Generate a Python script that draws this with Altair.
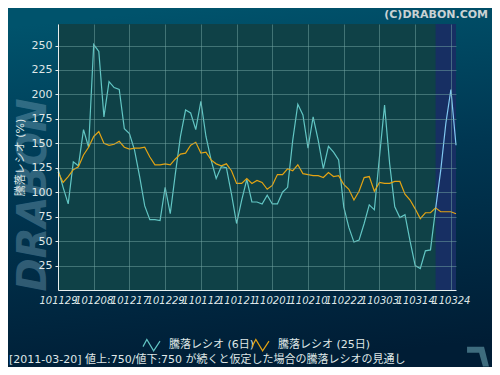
import altair as alt
import pandas as pd

# ---------------- data ----------------
dates = ['101129', '101208', '101217', '101229', '110112', '110121',
         '110201', '110210', '110222', '110303', '110314', '110324']
tick_idx = [0, 7, 14, 21, 28, 35, 42, 49, 56, 63, 70, 77]
y_ticks = [25, 50, 75, 100, 125, 150, 175, 200, 225, 250]

ratio6 = [124, 105, 88, 131, 127, 164, 146, 251, 244, 177, 213, 207, 205, 165, 160, 143, 116, 86, 72, 72, 71,
          105, 78, 119, 157, 184, 181, 164, 193, 157, 133, 114, 126, 125, 98, 68, 92, 113, 90, 90,
          88, 97, 88, 88, 100, 105, 153, 190, 179, 145, 177, 153, 124, 147, 141, 133, 85, 64, 49, 51,
          68, 87, 82, 136, 189, 129, 85, 74, 77, 50, 25, 22, 40, 41, 83, 122, 170, 205, 148]
ratio25 = [121, 110, 116, 123, 126, 138, 146, 157, 162, 150, 148, 149, 152, 146, 144, 145, 145, 146, 136, 128, 128,
           129, 128, 134, 139, 140, 148, 151, 140, 141, 133, 129, 127, 129, 122, 109, 109, 114, 109, 112,
           110, 103, 107, 118, 118, 124, 122, 128, 119, 118, 117, 117, 115, 120, 116, 117, 108, 103, 92, 101,
           115, 116, 101, 110, 109, 109, 111, 111, 98, 92, 83, 73, 79, 79, 84, 80, 80, 80, 78]
series_names = ['騰落レシオ (6日)', '騰落レシオ (25日)']
last_actual = 74          # index of last observed day
proj_band = [74, 78]      # projected (assumed) range
x_domain = [0, 78]
y_domain = [0, 272]

footer = '[2011-03-20]  値上:750/値下:750 が続くと仮定した場合の騰落レシオの見通し'
copyright_txt = '(C)DRABON.COM'
watermark = 'DRABON'

# ---------------- layout ----------------
W, H = 398, 266
PL, PT = 50, 16
CW, CH = 484, 359
FONT = 'DejaVu Sans, Noto Sans CJK JP'
TXT = '#dfe7e7'
C6, C25, C6P = '#62c6c4', '#e3a313', '#80c8f2'

rows, prow = [], []
for i, (a, b) in enumerate(zip(ratio6, ratio25)):
    if i <= last_actual:
        rows.append({'i': i, 'v': a, 's': series_names[0]})
        rows.append({'i': i, 'v': b, 's': series_names[1]})
    if i >= last_actual:
        prow.append({'i': i, 'v': a, 's': 'p6'})
        prow.append({'i': i, 'v': b, 's': 'p25'})
actual = pd.DataFrame(rows)
proj = pd.DataFrame(prow)

xs = alt.Scale(domain=x_domain, nice=False, zero=False)
ys = alt.Scale(domain=y_domain, nice=False, zero=False)

label_expr = '[' + ','.join("'%s'" % d for d in dates) + '][round(datum.value/7)]'
x_axis = alt.Axis(
    values=tick_idx, labelExpr=label_expr, grid=True, gridColor='#74a6a4', gridOpacity=0.5,
    domainColor='#e6eeee', tickSize=0, labelFont=FONT, labelFontSize=10, labelFontStyle='italic',
    labelColor=TXT, labelPadding=5, labelFlush=False, labelOverlap=False, title=None, zindex=1)
y_axis = alt.Axis(
    values=y_ticks, grid=True, gridColor='#74a6a4', gridOpacity=0.5, domainColor='#e6eeee',
    tickColor='#e6eeee', tickSize=3, labelFont=FONT, labelFontSize=11, labelColor=TXT,
    labelPadding=3, labelOverlap=False, labelFlush=False,
    title='騰落レシオ (%)', titleFont=FONT, titleFontSize=11,
    titleFontWeight='normal', titleColor=TXT, titleAngle=270, titleX=-38, titleY=H / 2,
    titleAlign='center', titleBaseline='middle', zindex=1)

one = pd.DataFrame({'a': [0]})

bg = alt.Chart(one).mark_rect(
    fill=alt.LinearGradient(
        gradient='linear', x1=0.35, y1=0, x2=0.5, y2=1,
        stops=[alt.GradientStop(color='#00536c', offset=0),
               alt.GradientStop(color='#003752', offset=0.45),
               alt.GradientStop(color='#001d35', offset=1)])
).encode(x=alt.value(-PL), x2=alt.value(CW - PL), y=alt.value(-PT), y2=alt.value(CH - PT))

plotbg = alt.Chart(one).mark_rect(fill='#0f4147').encode(
    x=alt.value(0), x2=alt.value(W), y=alt.value(0), y2=alt.value(H))

band = alt.Chart(pd.DataFrame({'x0': [proj_band[0]], 'x1': [proj_band[1]]})).mark_rect(
    fill='#172f63').encode(
    x=alt.X('x0:Q', scale=xs, axis=x_axis), x2='x1:Q', y=alt.value(0), y2=alt.value(H))

sym = 'M-1,0.25L-0.55,-0.6L0.25,0.75L1,-0.4'

lines = alt.Chart(actual).mark_line(strokeWidth=1.2).encode(
    x=alt.X('i:Q', scale=xs, axis=x_axis),
    y=alt.Y('v:Q', scale=ys, axis=y_axis),
    color=alt.Color('s:N', scale=alt.Scale(domain=series_names, range=[C6, C25]),
                    legend=alt.Legend(orient='none', legendX=84, legendY=311, direction='horizontal',
                                      title=None, symbolType=sym, symbolSize=289, symbolStrokeWidth=1.2,
                                      symbolFillColor='transparent', gridAlign='none',
                                      labelColor=TXT, labelFont=FONT, labelFontSize=11,
                                      columnPadding=-6, labelOffset=8, padding=0))
)

projl = alt.Chart(proj).mark_line(strokeWidth=1.2).encode(
    x=alt.X('i:Q', scale=xs, axis=x_axis), y=alt.Y('v:Q', scale=ys, axis=y_axis),
    color=alt.Color('s:N', scale=alt.Scale(domain=['p6', 'p25'], range=[C6P, C25]), legend=None)
)

wm = alt.Chart(pd.DataFrame({'t': [watermark]})).mark_text(
    angle=270, font='DejaVu Sans', fontSize=40, fontWeight='bold', fontStyle='italic',
    color='#86b0c4', opacity=0.36, align='center', baseline='middle'
).encode(text='t:N', x=alt.value(-24), y=alt.value(171))

cp = alt.Chart(pd.DataFrame({'t': [copyright_txt]})).mark_text(
    font='DejaVu Sans', fontSize=11, fontWeight='bold', color='#c9d2d4', align='right', baseline='top'
).encode(text='t:N', x=alt.value(CW - PL - 4), y=alt.value(-PT + 1))

ft = alt.Chart(pd.DataFrame({'t': [footer]})).mark_text(
    font=FONT, fontSize=11, color=TXT, align='left', baseline='middle'
).encode(text='t:N', x=alt.value(-PL + 1), y=alt.value(336))

logo = alt.Chart(one).mark_point(
    shape='M-1,-0.85L0.55,-0.85L1,0.95L0.45,0.95L0.1,-0.3L-1,-0.3Z',
    filled=True, fill='#3e6c7e', stroke=None, opacity=1, size=480
).encode(x=alt.value(420), y=alt.value(332))

chart = alt.layer(bg, plotbg, band, lines, projl, wm, cp, ft, logo).resolve_scale(color='independent').properties(
    width=W, height=H, autosize=alt.AutoSizeParams(type='none'),
    padding={'left': PL, 'top': PT, 'right': CW - PL - W, 'bottom': CH - PT - H},
    background='#012a42'
).configure_view(stroke=None)

chart.save('out.html', embed_options={'renderer': 'svg', 'actions': False})
